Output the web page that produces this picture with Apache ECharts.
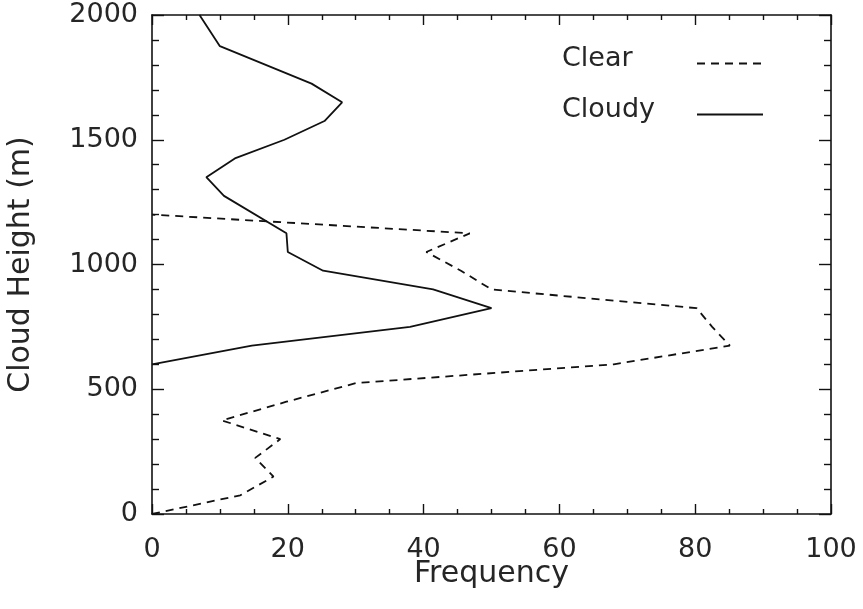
<!DOCTYPE html>
<html><head><meta charset="utf-8">
<script src="https://cdn.jsdelivr.net/npm/echarts@6/dist/echarts.min.js"></script>
<style>html,body{margin:0;padding:0;background:#fff}#c{width:863px;height:609px}</style>
</head><body><div id="c"></div>
<script>
// Clear sky (dashed) profile
const clearHeight = [0, 75, 150, 225, 300, 375, 450, 525, 600, 675, 750, 825, 900, 975, 1050, 1125, 1200];
const clearFreq   = [0, 13.0, 17.9, 15.2, 18.9, 10.3, 19.8, 30.1, 68.0, 85.1, 82.5, 80.2, 50.0, 45.5, 40.4, 46.8, 0];
// Cloudy (solid) profile
const cloudyHeight = [600, 675, 750, 825, 900, 975, 1050, 1125, 1275, 1350, 1425, 1500, 1575, 1650, 1725, 1875, 2000];
const cloudyFreq   = [0, 14.7, 38.0, 50.0, 41.4, 25.2, 20.0, 19.8, 10.6, 8.0, 12.2, 19.5, 25.4, 28.0, 23.5, 10.0, 7.0];
const xTicks = [0, 20, 40, 60, 80, 100];
const yTicks = [0, 500, 1000, 1500, 2000];

const FONT = 'DejaVu Sans';
const TXT = '#262626';
const pairs = (xs, ys) => xs.map((x, i) => [x, ys[i]]);

const axisCommon = (isX, showLabel) => ({
  type: 'value',
  min: isX ? xTicks[0] : yTicks[0],
  max: isX ? xTicks[xTicks.length - 1] : yTicks[yTicks.length - 1],
  interval: isX ? xTicks[1] - xTicks[0] : yTicks[1] - yTicks[0],
  axisLine: { show: true, onZero: false, lineStyle: { color: '#111', width: 1.6 } },
  axisTick: { show: true, inside: true, length: isX ? 10 : 12, lineStyle: { color: '#111', width: 1.4 } },
  minorTick: { show: true, splitNumber: isX ? 4 : 5, length: isX ? 5 : 7, lineStyle: { color: '#111', width: 1.4 } },
  splitLine: { show: false },
  axisLabel: { show: showLabel, fontFamily: FONT, fontSize: 27, color: TXT, margin: isX ? 22 : 14,
    formatter: v => String(v) }
});

const legendCommon = (name, top) => ({
  data: [name], left: 562, top: top, padding: 0, orient: 'vertical', align: 'right',
  itemWidth: 66, itemHeight: 14, itemGap: 0,
  itemStyle: { opacity: 0 },
  formatter: '{a|{name}}',
  textStyle: { fontFamily: FONT, fontSize: 27, color: TXT, padding: [0, 0, 10, 0],
    rich: { a: { width: 130, fontFamily: FONT, fontSize: 27, color: TXT, align: 'left' } } }
});

const chart = echarts.init(document.getElementById('c'), null, { renderer: 'canvas' });
chart.setOption({
  animation: false,
  backgroundColor: '#fff',
  grid: { left: 152, right: 32, top: 15, bottom: 95, containLabel: false, outerBoundsMode: 'none' },
  xAxis: [
    Object.assign(axisCommon(true, true), { position: 'bottom', name: 'Frequency', nameLocation: 'middle', nameGap: 45,
      nameMoveOverlap: false,
      nameTextStyle: { fontFamily: FONT, fontSize: 30, color: TXT } }),
    Object.assign(axisCommon(true, false), { position: 'top' })
  ],
  yAxis: [
    Object.assign(axisCommon(false, true), { position: 'left', name: 'Cloud Height (m)', nameLocation: 'middle', nameGap: 116,
      nameMoveOverlap: false,
      nameTextStyle: { fontFamily: FONT, fontSize: 30, color: TXT } }),
    Object.assign(axisCommon(false, false), { position: 'right' })
  ],
  legend: [legendCommon('Clear', 45), legendCommon('Cloudy', 96)],
  series: [
    { name: 'Clear', type: 'line', xAxisIndex: 0, yAxisIndex: 0, data: pairs(clearFreq, clearHeight),
      symbol: 'none', showSymbol: false, clip: true,
      lineStyle: { color: '#111', width: 1.8, type: [8, 6] }, itemStyle: { color: '#111' } },
    { name: 'Cloudy', type: 'line', xAxisIndex: 0, yAxisIndex: 0, data: pairs(cloudyFreq, cloudyHeight),
      symbol: 'none', showSymbol: false, clip: true,
      lineStyle: { color: '#111', width: 1.8, type: 'solid' }, itemStyle: { color: '#111' } }
  ]
});
</script></body></html>
